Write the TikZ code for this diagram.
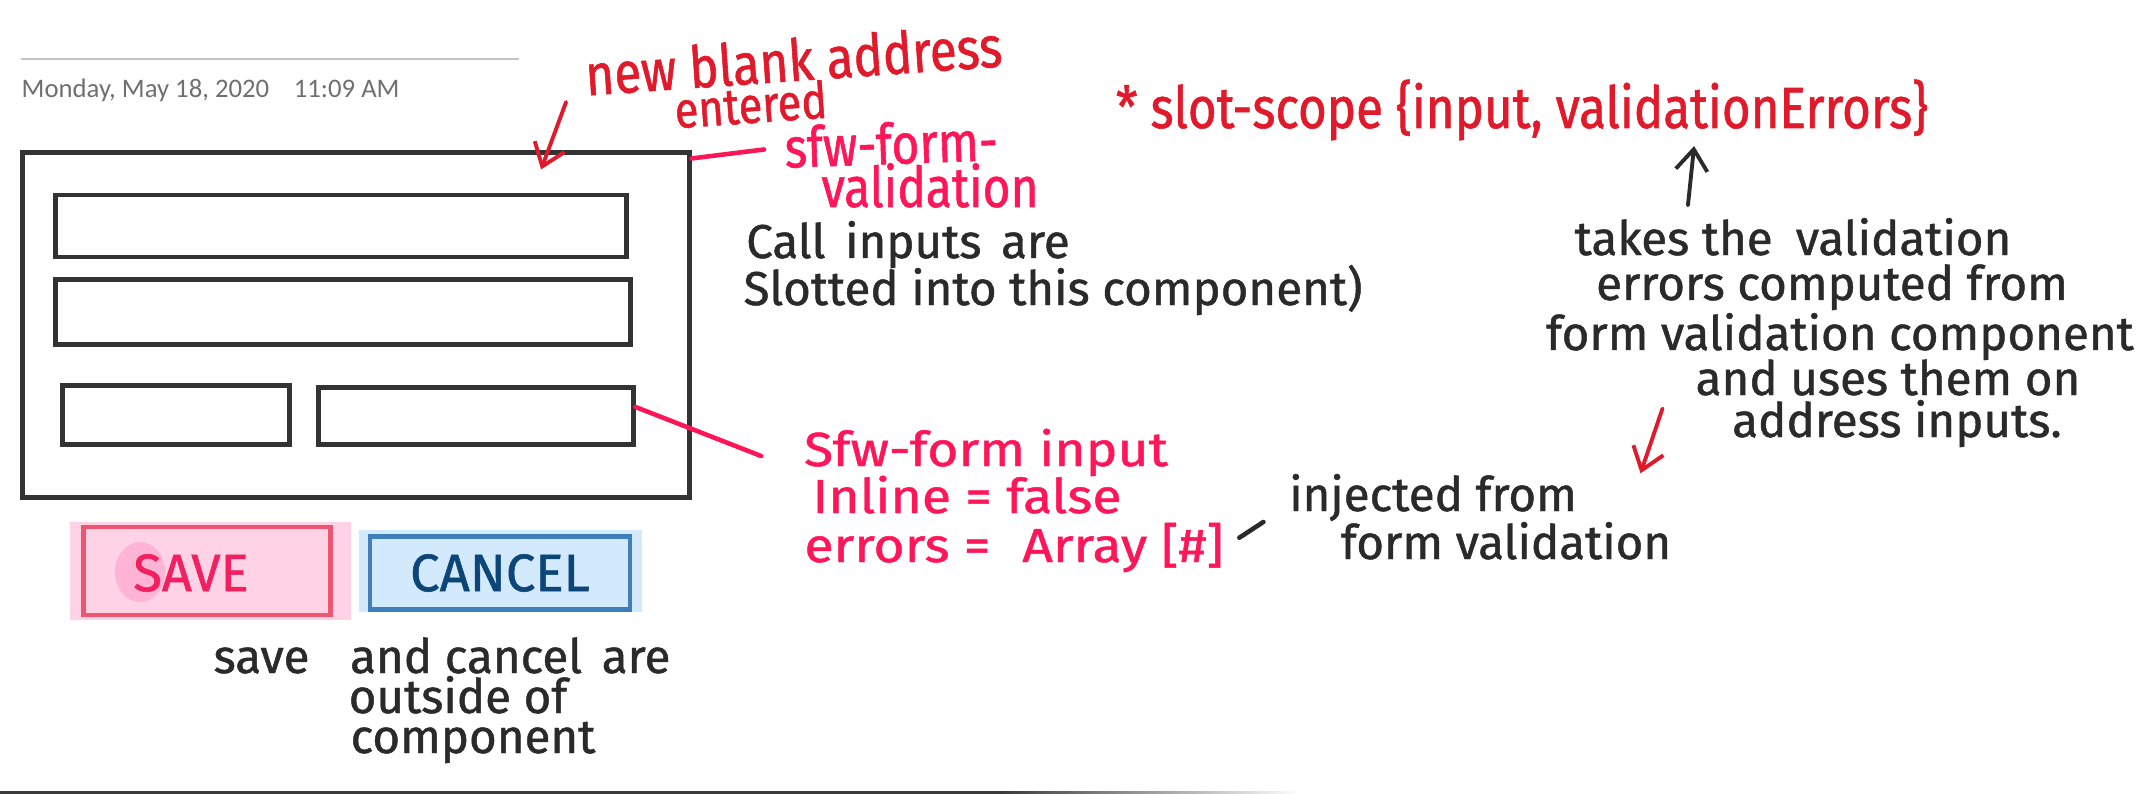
\documentclass[tikz,border=0pt]{standalone}
\usepackage{fontspec}
\usepackage{tikz}
\usepackage{xcolor}
\newfontfamily\handfont{Fira Sans}[FakeBold=1]
\newfontfamily\handnarrow{Fira Sans}[FakeStretch=0.85,FakeBold=1]
\newfontfamily\handwide{Fira Sans}[FakeStretch=1.12,FakeBold=1]
\newfontfamily\stampfont{Carlito}
\usetikzlibrary{arrows.meta,positioning}
\definecolor{frame}{HTML}{333333}
\definecolor{ink}{HTML}{2A2A2A}
\definecolor{redink}{HTML}{E0192B}
\definecolor{pinkink}{HTML}{FF1659}
\definecolor{dategray}{HTML}{6F6F6F}
\definecolor{rulegray}{HTML}{C4C4C4}
\definecolor{savefill}{HTML}{FFD2E6}
\definecolor{saveedge}{HTML}{EE5570}
\definecolor{savetext}{HTML}{F2205F}
\definecolor{saveblob}{HTML}{FFB4D5}
\definecolor{cancelfill}{HTML}{D3EAFC}
\definecolor{canceledge}{HTML}{3F7FBA}
\definecolor{canceltext}{HTML}{0C4679}
\definecolor{edge}{HTML}{3A3A3A}

\begin{document}
\begin{tikzpicture}[
      x=0.01cm, y=-0.01cm,
      >={Straight Barb[length=6pt,width=9pt]},
      field/.style={draw=frame, line width=1.4pt},
      hand/.style={font=\handfont\fontsize{13.5}{15}\selectfont, text=ink, inner sep=0pt},
      redhand/.style={hand, text=redink, font=\handnarrow\fontsize{16.5}{19}\selectfont},
      pinkhand/.style={hand, text=pinkink, font=\handnarrow\fontsize{16.5}{19}\selectfont},
      pinkwide/.style={hand, text=pinkink, font=\handwide\fontsize{13.6}{15}\selectfont},
      btn/.style={line width=1.2pt, inner sep=0pt, font=\handfont\fontsize{15}{17}\selectfont},
      wire/.style={pinkink, line width=1.3pt, line cap=round},
      redflow/.style={->, redink, line width=1.1pt, line cap=round},
      flow/.style={->, ink, line width=1.1pt, line cap=round}
    ]
    \useasboundingbox (0,0) rectangle (2148,794);
    \draw[rulegray, line width=0.6pt] (21,59) -- (519,59);
    \node[anchor=base west, inner sep=0pt, text=dategray,
      font=\stampfont\fontsize{7.6}{9}\selectfont] (stamp) at (21,98)
      {Monday, May 18, 2020\hspace{7pt}11:09 AM};

    \node[field, minimum width=6.66cm, minimum height=3.44cm] (formbox) at (356,325) {};
    \node[field, minimum width=5.71cm, minimum height=0.62cm] (street) at (341,226) {};
    \node[field, minimum width=5.74cm, minimum height=0.65cm] (street2) at (343,312) {};
    \node[field, minimum width=2.26cm, minimum height=0.59cm] (city) at (176,415) {};
    \node[field, minimum width=3.14cm, minimum height=0.57cm] (zip) at (476,416) {};

    \fill[savefill] (70,522) rectangle (351,620);
    \fill[cancelfill] (359,530) rectangle (642,612);
    \node[btn, draw=saveedge, fill=savefill, minimum width=2.47cm, minimum height=0.88cm] (save) at (207,571) {};
    \fill[saveblob] (140,572) ellipse [x radius=25, y radius=30];
    \node[btn, text=savetext] (savelabel) at (191,573) {SAVE};
    \node[btn, draw=canceledge, fill=cancelfill, text=canceltext, minimum width=2.60cm,
      minimum height=0.73cm] (cancel) at (500,573) {CANCEL};

    \node[redhand, anchor=base, rotate=4] (newblank) at (795,81) {new blank address};
    \node[redhand, font=\handnarrow\fontsize{14.5}{17}\selectfont, anchor=base, rotate=4] (entered) at (752,123) {entered};
    \node[pinkhand, font=\handnarrow\fontsize{16}{18}\selectfont, anchor=base, rotate=2] (sfwform) at (892,164) {sfw-form-};
    \node[pinkhand, font=\handnarrow\fontsize{16}{18}\selectfont, anchor=base] (sfwvalid) at (930,207) {validation};
    \node[hand, anchor=base] (slotnote) at (908,258) {Call\hspace{2pt} inputs\hspace{2pt} are};
    \node[hand, anchor=base] (slotnote2) at (1053,305) {Slotted into this component)};
    \node[pinkwide, anchor=base] (sfwinput) at (986,466) {Sfw-form input};
    \node[pinkwide, anchor=base] (inline) at (967,513) {Inline = false};
    \node[pinkwide, anchor=base] (errs) at (1014,562) {errors =\hspace{5pt} Array [\#]};
    \node[hand, anchor=base] (injected) at (1433,511) {injected from};
    \node[hand, anchor=base] (injected2) at (1506,559) {form validation};
    \node[redhand, anchor=base] (slotscope) at (1522,128)
      {* slot-scope \{input, validationErrors\}};
    \node[hand, anchor=base] (takes) at (1793,255) {takes the\hspace{3pt} validation};
    \node[hand, anchor=base] (takes2) at (1832,300) {errors computed from};
    \node[hand, anchor=base] (takes3) at (1840,350) {form validation component};
    \node[hand, anchor=base] (takes4) at (1888,395) {and uses them on};
    \node[hand, anchor=base] (takes5) at (1897,437) {address inputs.};
    \node[hand, anchor=base] (outside) at (442,673) {save\hspace{8pt} and cancel\hspace{2pt} are};
    \node[hand, anchor=base] (outside2) at (458,713) {outside of};
    \node[hand, anchor=base] (outside3) at (473,753) {component};

    \draw[wire, shorten >=0.2cm] ([yshift=-0.08cm]formbox.north east) -- (sfwform.west);
    \draw[wire, shorten >=0.45cm] ([yshift=0.09cm]zip.east) -- ([yshift=-0.2cm]sfwinput.west);
    \draw[ink, line width=1.3pt, line cap=round, shorten <=0.18cm, shorten >=0.3cm]
      (errs.east) -- ([yshift=-0.08cm]injected.west);
    \draw[flow] ([xshift=-1.05cm,yshift=0.12cm]takes.north) -- ([xshift=1.72cm,yshift=-0.05cm]slotscope.south);
    \draw[redflow] ([xshift=-0.2cm,yshift=-0.05cm]newblank.south west) -- ([xshift=1.85cm,yshift=-0.19cm]formbox.north);
    \draw[redflow] ([shift={(-0.69cm,0.15cm)}]takes5.west) -- ([xshift=0.63cm]injected.north east);

    \fill[edge] (0,791) rectangle (1000,794);
    \shade[left color=edge, right color=white] (1000,791) rectangle (1300,794);
  \end{tikzpicture}
\end{document}
